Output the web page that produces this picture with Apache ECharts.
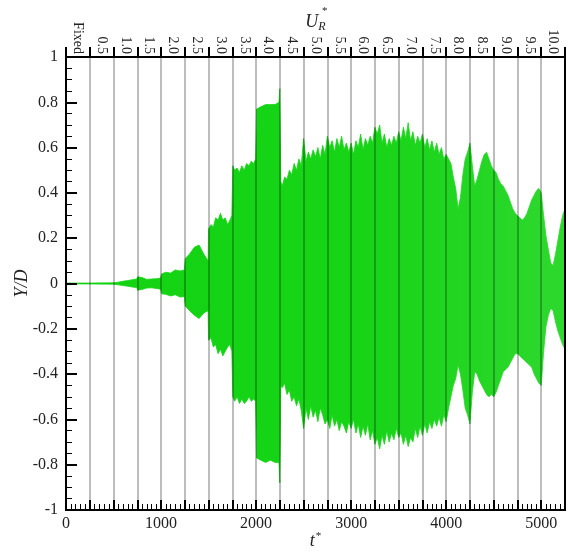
<!DOCTYPE html>
<html>
<head>
<meta charset="utf-8">
<script src="https://cdn.jsdelivr.net/npm/echarts@6/dist/echarts.min.js"></script>
<style>
  html, body { margin: 0; padding: 0; background: #fff; }
  #chart { width: 568px; height: 552px; }
</style>
</head>
<body>
<div id="chart"></div>
<script>
// reduced velocity labels on the top axis (one per 250 time units)
const urLabels = ['Fixed', '0.5', '1.0', '1.5', '2.0', '2.5', '3.0', '3.5', '4.0', '4.5', '5.0',
  '5.5', '6.0', '6.5', '7.0', '7.5', '8.0', '8.5', '9.0', '9.5', '10.0']

// envelope of the Y/D signal: [t*, upper, lower]
const envelope = [
  [0, 0.002, -0.002], [250, 0.002, -0.002], [500, 0.003, -0.003], [550, 0.006, -0.006],
  [600, 0.010, -0.009], [650, 0.013, -0.012], [700, 0.017, -0.016], [745, 0.020, -0.018],
  [755, 0.030, -0.030], [800, 0.026, -0.026], [850, 0.018, -0.020], [900, 0.020, -0.019],
  [950, 0.021, -0.022], [995, 0.024, -0.025], [1005, 0.042, -0.045], [1050, 0.050, -0.048],
  [1100, 0.046, -0.055], [1150, 0.060, -0.050], [1200, 0.055, -0.060], [1245, 0.060, -0.058],
  [1255, 0.110, -0.100], [1300, 0.130, -0.120], [1350, 0.160, -0.140], [1400, 0.170, -0.155],
  [1450, 0.130, -0.130], [1495, 0.100, -0.120],
  [1500, 0.24, -0.25], [1525, 0.26, -0.24], [1550, 0.25, -0.28], [1575, 0.29, -0.27],
  [1600, 0.28, -0.31], [1625, 0.31, -0.29], [1650, 0.28, -0.32], [1675, 0.29, -0.30],
  [1700, 0.26, -0.28], [1725, 0.28, -0.27], [1745, 0.30, -0.30],
  [1755, 0.52, -0.50], [1775, 0.50, -0.52], [1800, 0.51, -0.50], [1825, 0.49, -0.53],
  [1850, 0.52, -0.51], [1875, 0.50, -0.53], [1900, 0.53, -0.52], [1925, 0.52, -0.50],
  [1950, 0.54, -0.52], [1975, 0.53, -0.51], [1995, 0.55, -0.52],
  [2005, 0.77, -0.77], [2050, 0.78, -0.78], [2100, 0.79, -0.79], [2150, 0.79, -0.78],
  [2200, 0.79, -0.79], [2240, 0.80, -0.79], [2250, 0.86, -0.88],
  [2260, 0.45, -0.45], [2275, 0.43, -0.46], [2300, 0.47, -0.44], [2325, 0.46, -0.49],
  [2350, 0.50, -0.47], [2375, 0.48, -0.52], [2400, 0.53, -0.50], [2425, 0.50, -0.54],
  [2450, 0.55, -0.51], [2475, 0.52, -0.56], [2500, 0.64, -0.64], [2525, 0.54, -0.55],
  [2550, 0.58, -0.60], [2575, 0.55, -0.54], [2600, 0.59, -0.59], [2625, 0.56, -0.56],
  [2650, 0.60, -0.61], [2675, 0.55, -0.55], [2700, 0.61, -0.58], [2725, 0.57, -0.62],
  [2750, 0.65, -0.60], [2775, 0.60, -0.64], [2800, 0.63, -0.58], [2825, 0.58, -0.63],
  [2850, 0.64, -0.60], [2875, 0.60, -0.65], [2900, 0.65, -0.61], [2925, 0.59, -0.63],
  [2950, 0.62, -0.66], [2975, 0.58, -0.61], [3000, 0.62, -0.64], [3025, 0.57, -0.60],
  [3050, 0.63, -0.66], [3075, 0.60, -0.62], [3100, 0.66, -0.68], [3125, 0.59, -0.63],
  [3150, 0.64, -0.67], [3175, 0.61, -0.62], [3200, 0.65, -0.69], [3225, 0.62, -0.65],
  [3250, 0.69, -0.71], [3275, 0.66, -0.68], [3300, 0.70, -0.73], [3325, 0.62, -0.67],
  [3350, 0.66, -0.71], [3375, 0.60, -0.65], [3400, 0.64, -0.70], [3425, 0.61, -0.66],
  [3450, 0.65, -0.69], [3475, 0.62, -0.64], [3500, 0.67, -0.68], [3525, 0.63, -0.66],
  [3550, 0.69, -0.71], [3575, 0.64, -0.67], [3600, 0.71, -0.72], [3625, 0.63, -0.68],
  [3650, 0.67, -0.70], [3675, 0.61, -0.64], [3700, 0.65, -0.68], [3725, 0.62, -0.63],
  [3750, 0.66, -0.67], [3775, 0.60, -0.62], [3800, 0.64, -0.66], [3825, 0.59, -0.61],
  [3850, 0.63, -0.64], [3875, 0.58, -0.60], [3900, 0.62, -0.63], [3925, 0.57, -0.59],
  [3950, 0.60, -0.63], [3975, 0.55, -0.58], [4000, 0.57, -0.61], [4025, 0.55, -0.55],
  [4050, 0.53, -0.50], [4075, 0.47, -0.45], [4100, 0.42, -0.42], [4125, 0.33, -0.36],
  [4150, 0.38, -0.40], [4175, 0.48, -0.47], [4200, 0.55, -0.55], [4225, 0.58, -0.58],
  [4250, 0.62, -0.62], [4275, 0.52, -0.48], [4300, 0.43, -0.39], [4325, 0.46, -0.40],
  [4350, 0.50, -0.43], [4375, 0.54, -0.45], [4400, 0.57, -0.47], [4425, 0.58, -0.49],
  [4450, 0.55, -0.50], [4475, 0.52, -0.49], [4500, 0.50, -0.50], [4525, 0.49, -0.48],
  [4550, 0.46, -0.45], [4575, 0.44, -0.42], [4600, 0.43, -0.39], [4625, 0.41, -0.38],
  [4650, 0.39, -0.37], [4675, 0.36, -0.35], [4700, 0.33, -0.33], [4725, 0.31, -0.31],
  [4750, 0.30, -0.31], [4775, 0.29, -0.32], [4800, 0.28, -0.33], [4825, 0.29, -0.34],
  [4850, 0.31, -0.35], [4875, 0.34, -0.36], [4900, 0.37, -0.37], [4925, 0.39, -0.40],
  [4950, 0.41, -0.42], [4975, 0.42, -0.44], [5000, 0.40, -0.45], [5025, 0.30, -0.30],
  [5050, 0.21, -0.19], [5075, 0.15, -0.14], [5100, 0.09, -0.11], [5125, 0.08, -0.12],
  [5150, 0.13, -0.17], [5175, 0.19, -0.21], [5200, 0.25, -0.24], [5225, 0.30, -0.27],
  [5250, 0.33, -0.29]
]
const upper = envelope.map(r => [r[0], r[1]])
const lower = envelope.map(r => [r[0], r[2]])

const serif = 'Liberation Serif'
const green = new echarts.graphic.LinearGradient(0, 0, 1, 0, [
  { offset: 0, color: '#12d312' },
  { offset: 0.6, color: '#17d417' },
  { offset: 1, color: '#2ed82e' }
])

const chart = echarts.init(document.getElementById('chart'))

const option = {
  animation: false,
  backgroundColor: '#fff',
  grid: {
    left: 66, right: 3, top: 57, bottom: 42,
    containLabel: false, outerBoundsMode: 'none',
    show: true, borderColor: '#000', borderWidth: 2
  },
  xAxis: [
    {
      type: 'value',
      min: 0,
      max: 5250,
      interval: 250,
      position: 'bottom',
      z: 5,
      axisLine: { show: true, onZero: false, lineStyle: { color: '#000', width: 2 } },
      axisTick: { show: true, inside: true, length: 10, lineStyle: { color: '#000', width: 2 } },
      minorTick: { show: true, splitNumber: 5, length: 6, lineStyle: { color: '#000', width: 1 } },
      splitLine: { show: true, lineStyle: { color: 'rgba(0,0,0,0.35)', width: 1.5 } },
      axisLabel: {
        formatter: v => (v % 1000 === 0 ? String(v) : ''),
        fontFamily: serif, fontSize: 16, color: '#222', margin: 6
      },
      name: '{t|t}{s|*}',
      nameLocation: 'middle',
      nameGap: 21,
      nameMoveOverlap: false,
      nameTextStyle: {
        rich: {
          t: { fontFamily: serif, fontStyle: 'italic', fontSize: 18, color: '#222' },
          s: { fontFamily: serif, fontSize: 11, color: '#222', verticalAlign: 'top', padding: [0, 0, 10, 1] }
        }
      }
    },
    {
      type: 'category',
      data: urLabels,
      position: 'top',
      boundaryGap: true,
      z: 5,
      axisLine: { show: true, onZero: false, lineStyle: { color: '#000', width: 2 } },
      axisTick: { show: true, length: 10, lineStyle: { color: '#000', width: 2 } },
      axisLabel: { rotate: 90, interval: 0, fontFamily: serif, fontSize: 14, color: '#222', margin: 3 },
      name: '{u|U}{r|R}',
      nameLocation: 'middle',
      nameGap: 24,
      nameMoveOverlap: false,
      nameTextStyle: {
        rich: {
          u: { fontFamily: serif, fontStyle: 'italic', fontSize: 18, color: '#222' },
          r: { fontFamily: serif, fontStyle: 'italic', fontSize: 12, color: '#222', padding: [10, 0, 0, 0] }
        }
      }
    }
  ],
  yAxis: [
    {
      type: 'value',
      min: -1,
      max: 1,
      interval: 0.2,
      z: 5,
      axisLine: { show: true, onZero: false, lineStyle: { color: '#000', width: 2 } },
      axisTick: { show: true, inside: true, length: 11, lineStyle: { color: '#000', width: 2 } },
      minorTick: { show: true, splitNumber: 4, length: 6, lineStyle: { color: '#000', width: 1 } },
      splitLine: { show: false },
      axisLabel: { fontFamily: serif, fontSize: 16, color: '#222', margin: 8 },
      name: 'Y/D',
      nameLocation: 'middle',
      nameRotate: 90,
      nameGap: 35,
      nameMoveOverlap: false,
      nameTextStyle: { fontFamily: serif, fontStyle: 'italic', fontSize: 18, color: '#222' }
    },
    {
      type: 'value',
      position: 'right',
      min: -1,
      max: 1,
      z: 5,
      axisLine: { show: true, onZero: false, lineStyle: { color: '#000', width: 2 } },
      axisTick: { show: false },
      axisLabel: { show: false },
      splitLine: { show: false }
    }
  ],
  graphic: [
    { type: 'text', left: 322, top: 6, style: { text: '*', font: '11px "Liberation Serif"', fill: '#222' } }
  ],
  series: [
    {
      // green from the bottom of the plot up to the upper envelope
      name: 'upper',
      type: 'line',
      xAxisIndex: 0,
      yAxisIndex: 0,
      data: upper,
      symbol: 'none',
      lineStyle: { color: green, width: 0.8 },
      areaStyle: { color: green, opacity: 1, origin: 'start' }
    },
    {
      // white below the lower envelope, leaving the green band
      name: 'lower',
      type: 'line',
      xAxisIndex: 0,
      yAxisIndex: 0,
      data: lower,
      symbol: 'none',
      lineStyle: { color: green, width: 0.8 },
      areaStyle: { color: '#fff', opacity: 1, origin: 'start' }
    }
  ]
}

chart.setOption(option)
</script>
</body>
</html>
